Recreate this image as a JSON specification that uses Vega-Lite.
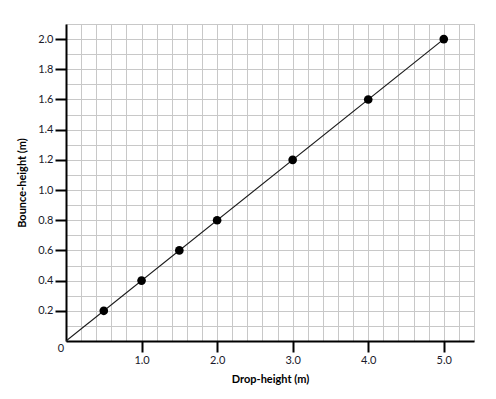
{
  "$schema": "https://vega.github.io/schema/vega-lite/v6.json",
  "width": 408,
  "height": 317,
  "autosize": {"type": "none"},
  "padding": {"left": 66, "top": 24, "right": 22, "bottom": 58},
  "background": "white",
  "config": {
    "view": {"stroke": "#c4c4c4", "strokeWidth": 1},
    "font": "Lato",
    "axis": {
      "gridColor": "#c8c8c8",
      "gridWidth": 1,
      "gridOpacity": 1,
      "domainColor": "black",
      "domainWidth": 2,
      "tickWidth": 2,
      "tickSize": 11,
      "labelFont": "Lato",
      "labelFontSize": 11,
      "labelColor": "#1a1a2a",
      "titleFont": "Lato",
      "titleFontSize": 11,
      "titleFontWeight": "bold",
      "titleColor": "black"
    }
  },
  "datasets": {
    "points": [
      {"drop": 0.5, "bounce": 0.2},
      {"drop": 1.0, "bounce": 0.4},
      {"drop": 1.5, "bounce": 0.6},
      {"drop": 2.0, "bounce": 0.8},
      {"drop": 3.0, "bounce": 1.2},
      {"drop": 4.0, "bounce": 1.6},
      {"drop": 5.0, "bounce": 2.0}
    ],
    "fit": [
      {"drop": 0, "bounce": 0},
      {"drop": 5.0, "bounce": 2.0}
    ],
    "origin": [
      {"drop": 0, "bounce": 0, "label": "0"}
    ]
  },
  "layer": [
    {
      "data": {"name": "fit"},
      "mark": {"type": "line", "color": "#1a1a1a", "strokeWidth": 1.2, "clip": true},
      "encoding": {
        "x": {
          "field": "drop", "type": "quantitative",
          "scale": {"domain": [0, 5.4], "nice": false, "zero": true},
          "axis": {
            "title": "Drop-height (m)",
            "titlePadding": 8,
            "tickCount": 200,
            "values": [0,0.2,0.4,0.6,0.8,1,1.2,1.4,1.6,1.8,2,2.2,2.4,2.6,2.8,3,3.2,3.4,3.6,3.8,4,4.2,4.4,4.6,4.8,5,5.2,5.4],
            "labelExpr": "(abs(datum.value - round(datum.value)) < 0.001 && datum.value > 0) ? format(datum.value, '.1f') : ''",
            "tickColor": {"condition": {"test": "abs(datum.value - round(datum.value)) < 0.001 && datum.value > 0", "value": "black"}, "value": "transparent"},
            "labelPadding": 2,
            "labelFlush": false,
            "labelOverlap": false
          }
        },
        "y": {
          "field": "bounce", "type": "quantitative",
          "scale": {"domain": [0, 2.1], "nice": false, "zero": true},
          "axis": {
            "title": "Bounce-height (m)",
            "titlePadding": 10,
            "tickCount": 200,
            "values": [0,0.1,0.2,0.3,0.4,0.5,0.6,0.7,0.8,0.9,1,1.1,1.2,1.3,1.4,1.5,1.6,1.7,1.8,1.9,2,2.1],
            "labelExpr": "(abs(datum.value * 5 - round(datum.value * 5)) < 0.001 && datum.value > 0) ? format(datum.value, '.1f') : ''",
            "tickColor": {"condition": {"test": "abs(datum.value * 5 - round(datum.value * 5)) < 0.001 && datum.value > 0", "value": "black"}, "value": "transparent"},
            "labelPadding": 2,
            "labelFlush": false,
            "labelOverlap": false
          }
        }
      }
    },
    {
      "data": {"name": "points"},
      "mark": {"type": "circle", "color": "black", "opacity": 1, "size": 75},
      "encoding": {
        "x": {"field": "drop", "type": "quantitative"},
        "y": {"field": "bounce", "type": "quantitative"}
      }
    },
    {
      "data": {"name": "origin"},
      "mark": {"type": "text", "font": "Lato", "fontSize": 11, "color": "#1a1a2a", "dx": -5, "dy": 8, "clip": false},
      "encoding": {
        "x": {"field": "drop", "type": "quantitative"},
        "y": {"field": "bounce", "type": "quantitative"},
        "text": {"field": "label"}
      }
    }
  ]
}
